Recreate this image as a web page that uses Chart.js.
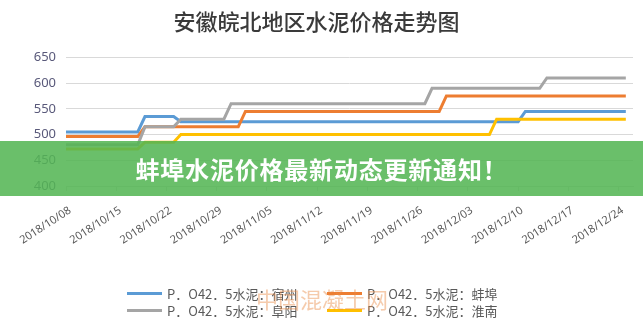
<!DOCTYPE html>
<html>
<head>
<meta charset="utf-8">
<script src="https://cdn.jsdelivr.net/npm/chart.js@4.4.1/dist/chart.umd.min.js"></script>
<style>
  html, body { margin: 0; padding: 0; background: #fff; }
  #wrap { position: relative; width: 643px; height: 336px; overflow: hidden; font-family: "Noto Sans CJK SC", "Noto Sans", sans-serif; }
  #c { position: absolute; left: 0; top: 0; }
  #banner { position: absolute; left: 0; top: 141px; width: 643px; height: 55px; background: rgba(84,182,84,0.87);
    color: #fff; font-weight: bold; font-size: 24px; line-height: 55px; text-align: center; letter-spacing: 0.8px; }
  #legend { position: absolute; left: 0; top: 285px; width: 643px; font-size: 13px; color: #595959; }
  .row { position: absolute; left: 0; height: 17px; width: 643px; }
  .item { position: absolute; top: 0; height: 17px; line-height: 17px; white-space: nowrap; }
  .sw { position: absolute; top: 7px; width: 35px; height: 3px; }
  .tx { position: absolute; white-space: nowrap; }
  #wm { position: absolute; left: 256px; top: 282px; font-size: 22px; color: rgba(232,140,70,0.45); white-space: nowrap; }
</style>
</head>
<body>
<div id="wrap">
  <canvas id="c" width="643" height="336"></canvas>
  <div id="legend"></div>
  <div id="wm">中国混凝土网</div>
  <div id="banner">蚌埠水泥价格最新动态更新通知！</div>
</div>
<script>
// Tick labels (weekly dates) and day offsets of data points from 2018/10/08
const dateLabels = ['2018/10/08','2018/10/15','2018/10/22','2018/10/29','2018/11/05','2018/11/12','2018/11/19','2018/11/26','2018/12/03','2018/12/10','2018/12/17','2018/12/24'];
const seriesNames = ['P．O42．5水泥：宿州','P．O42．5水泥：蚌埠','P．O42．5水泥：阜阳','P．O42．5水泥：淮南'];
const seriesColors = ['#5b9bd5','#ed7d31','#a5a5a5','#ffc000'];

const suzhouDays   = [0, 10, 11, 15, 16, 63, 64, 78];
const suzhouPrices = [505, 505, 535, 535, 525, 525, 545, 545];
const bengbuDays   = [0, 10, 11, 24, 25, 52, 53, 78];
const bengbuPrices = [496, 496, 515, 515, 545, 545, 575, 575];
const fuyangDays   = [0, 10, 11, 15, 16, 22, 23, 50, 51, 66, 67, 78];
const fuyangPrices = [480, 480, 515, 515, 530, 530, 560, 560, 590, 590, 610, 610];
const huainanDays   = [0, 10, 11, 15, 16, 59, 60, 78];
const huainanPrices = [472, 472, 485, 485, 500, 500, 530, 530];

const yTicks = [400, 450, 500, 550, 600, 650];

function pts(days, prices) { return days.map((d, i) => ({x: d, y: prices[i]})); }
const allDays = [suzhouDays, bengbuDays, fuyangDays, huainanDays];
const allPrices = [suzhouPrices, bengbuPrices, fuyangPrices, huainanPrices];

const datasets = seriesNames.map((n, i) => ({
  label: n,
  data: pts(allDays[i], allPrices[i]),
  borderColor: seriesColors[i],
  backgroundColor: seriesColors[i],
  borderWidth: 3,
  pointRadius: 0,
  tension: 0,
  fill: false,
  order: 4 - i
}));

new Chart(document.getElementById('c'), {
  type: 'line',
  data: { datasets },
  options: {
    responsive: false,
    animation: false,
    events: [],
    layout: { padding: { left: 0, right: 10, top: 0, bottom: 0 } },
    plugins: {
      legend: { display: false },
      tooltip: { enabled: false },
      title: {
        display: true,
        text: '安徽皖北地区水泥价格走势图',
        color: '#3a3a3a',
        font: { family: '"Noto Sans CJK SC"', size: 22, weight: '500' },
        padding: { top: 8, bottom: 23 }
      }
    },
    scales: {
      x: {
        type: 'linear',
        min: 0,
        max: 79,
        afterBuildTicks: ax => { ax.ticks = dateLabels.map((_, i) => ({ value: i * 7 })); },
        afterFit: ax => { ax.height = 150; },
        ticks: {
          autoSkip: false,
          maxRotation: 33,
          minRotation: 33,
          padding: 13,
          labelOffset: 4,
          color: '#595959',
          font: { family: '"Noto Sans", sans-serif', size: 11 },
          callback: v => dateLabels[Math.round(v / 7)]
        },
        grid: { drawOnChartArea: false, color: '#d9d9d9', tickLength: 5 },
        border: { display: true, color: '#d9d9d9' }
      },
      y: {
        min: 400,
        max: 650,
        afterBuildTicks: ax => { ax.ticks = yTicks.map(v => ({ value: v })); },
        afterFit: ax => { ax.width = 66; },
        ticks: {
          padding: 10,
          color: '#59597a',
          font: { family: '"Noto Sans", sans-serif', size: 13 }
        },
        grid: { color: '#d9d9d9', drawTicks: false },
        border: { display: false }
      }
    }
  }
});

// HTML legend, two rows of two
const lg = document.getElementById('legend');
const cols = [127, 327];
for (let r = 0; r < 2; r++) {
  const row = document.createElement('div');
  row.className = 'row';
  row.style.top = (r * 17) + 'px';
  for (let c = 0; c < 2; c++) {
    const i = r * 2 + c;
    const it = document.createElement('div');
    it.className = 'item';
    it.style.left = cols[c] + 'px';
    const sw = document.createElement('span');
    sw.className = 'sw';
    sw.style.left = '0px';
    sw.style.background = seriesColors[i];
    const tx = document.createElement('span');
    tx.className = 'tx';
    tx.style.left = '40px';
    tx.textContent = seriesNames[i];
    it.appendChild(sw); it.appendChild(tx);
    row.appendChild(it);
  }
  lg.appendChild(row);
}
</script>
</body>
</html>
